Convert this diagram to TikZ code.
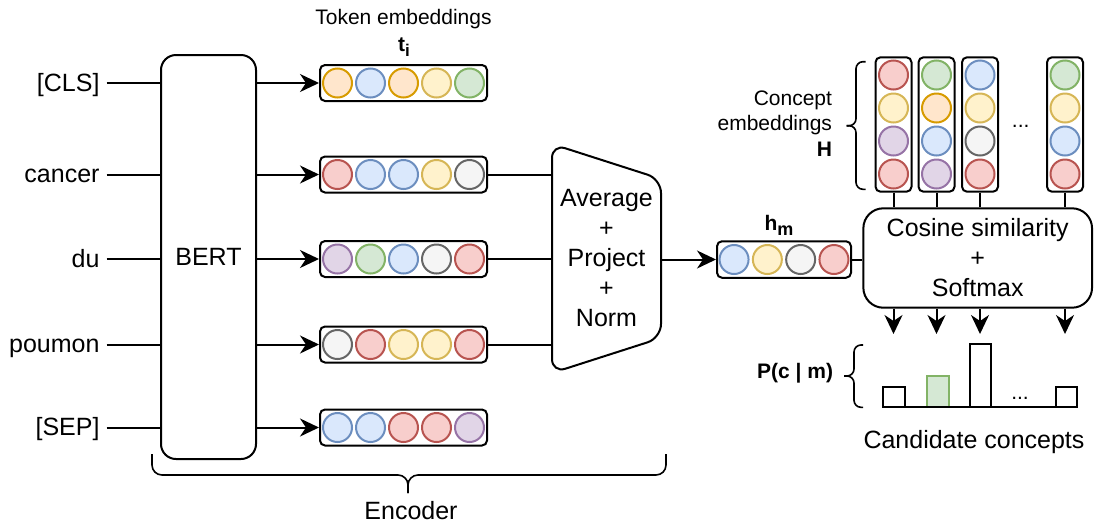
\documentclass[tikz,border=0pt]{standalone}
\usepackage{fontspec}
\setmainfont{Liberation Sans}
\usetikzlibrary{positioning,arrows.meta}

\definecolor{redfill}{HTML}{F8CECC}\definecolor{redline}{HTML}{B85450}
\definecolor{bluefill}{HTML}{DAE8FC}\definecolor{blueline}{HTML}{6C8EBF}
\definecolor{yellowfill}{HTML}{FFF2CC}\definecolor{yellowline}{HTML}{D6B656}
\definecolor{greenfill}{HTML}{D5E8D4}\definecolor{greenline}{HTML}{82B366}
\definecolor{orangefill}{HTML}{FFE6CC}\definecolor{orangeline}{HTML}{D79B00}
\definecolor{grayfill}{HTML}{F5F5F5}\definecolor{grayline}{HTML}{666666}
\definecolor{purplefill}{HTML}{E1D5E7}\definecolor{purpleline}{HTML}{9673A6}

\newcommand{\bigfont}{\fontsize{25}{30}\selectfont}
\newcommand{\smallfont}{\fontsize{21}{25.5}\selectfont}

\tikzset{
  dot/.style={circle, line width=2pt, minimum size=29pt, inner sep=0pt, draw=#1line, fill=#1fill},
  vecbox/.style={draw, rounded corners=5pt, line width=2pt, inner sep=0pt},
  bracepath/.style={line width=1.6pt, rounded corners=#1},
}

\begin{document}
\begin{tikzpicture}[x=1pt, y=-1pt, >={Stealth[length=19pt,width=18pt,inset=6pt]}, line width=2pt]
  \useasboundingbox (0,0) rectangle (1094,523);

  % encoder
  \node[draw, rounded corners=15pt, minimum width=95pt, minimum height=404pt, font=\bigfont] (bert) at (208.5,257) {BERT};
  \foreach \name/\txt/\y in {cls/{[CLS]}/83, cancer/cancer/174.5, du/du/259, poumon/poumon/344.5, sep/{[SEP]}/427.5}
    \node[anchor=east, inner xsep=6pt, inner ysep=0pt, text height=18pt, text depth=2pt, font=\bigfont] (\name) at (106.5,\y) {\txt};

  \foreach \i/\y/\cols in {1/83/{orange,blue,orange,yellow,green}, 2/174.5/{red,blue,blue,yellow,gray}, 3/259/{purple,green,blue,gray,red}, 4/344.5/{gray,red,yellow,yellow,red}, 5/427.5/{blue,blue,red,red,purple}} {
    \node[vecbox, minimum width=167pt, minimum height=36pt] (t\i) at (403.5,\y) {};
    \foreach \c [count=\k] in \cols
      \node[dot=\c] at ([xshift={(\k-3)*33pt}]t\i.center) {};
  }
  \foreach \n [count=\i] in {cls,cancer,du,poumon,sep} {
    \draw (\n) -- (bert.west |- \n);
    \draw[->] (bert.east |- t\i) -- (t\i);
  }
  \node[font=\smallfont] (tokl) at (403.5,19) {Token embeddings};
  \node[font=\smallfont\bfseries] (ti) at (404,47) {t\raisebox{-5pt}{\fontsize{17}{17}\selectfont i}};

  % average + project + norm
  \node[minimum width=107pt, minimum height=227pt, inner sep=0pt, align=center, font=\bigfont] (avg) at (606.5,258.5) {Average\\+\\Project\\+\\Norm};
  \draw[rounded corners=14pt] (avg.north west) -- ([yshift=-35pt]avg.north east) -- ([yshift=35pt]avg.south east) -- (avg.south west) -- cycle;
  \foreach \i in {2,3,4}
    \draw (t\i) -- (avg.west |- t\i);

  \node[vecbox, minimum width=134pt, minimum height=36.5pt] (hm) at (784,259.5) {};
  \foreach \c [count=\k] in {blue,yellow,gray,red}
    \node[dot=\c] at ([xshift={(\k-2.5)*33.3pt}]hm.center) {};
  \node[font=\smallfont\bfseries] (hml) at (779,225) {h\raisebox{-5pt}{\fontsize{18}{18}\selectfont m}};
  \draw[->] (avg.east |- hm) -- (hm);

  % scoring
  \node[draw, rounded corners=20pt, minimum width=228.7pt, minimum height=99.4pt, align=center, font=\bigfont] (cos) at (977.7,258) {Cosine similarity\\+\\Softmax};
  \draw (hm) -- (cos.west |- hm);

  \foreach \i/\x/\cols in {1/893.5/{red,yellow,purple,red}, 2/936.5/{green,orange,blue,purple}, 3/980/{blue,yellow,gray,red}, 4/1065/{green,yellow,blue,red}} {
    \node[vecbox, minimum width=36pt, minimum height=134.4pt] (c\i) at (\x,124.5) {};
    \foreach \c [count=\k] in \cols
      \node[dot=\c] at ([yshift={(2.5-\k)*33pt}]c\i.center) {};
    \draw (c\i) -- (cos.north -| c\i);
    \coordinate (a\i) at (\x,334);
    \draw[->] (cos.south -| c\i) -- (a\i);
  }
  \node[font=\smallfont] (cdots) at (1020.7,126.7) {...};
  \node[anchor=east, align=right, font=\smallfont, inner sep=0pt] (cel) at (833,123.5) {Concept\\embeddings\\\textbf{H}};
  \draw[bracepath=7pt] (865.7,61.7) -- (856,61.7) -- (856,125.7) -- (846.7,125.7);
  \draw[bracepath=7pt] (846.7,125.7) -- (856,125.7) -- (856,189.3) -- (865.7,189.3);

  % candidate scores
  \draw (883,407.3) rectangle (904.7,386.7);
  \draw[draw=greenline, fill=greenfill] (927.3,407.3) rectangle (949.3,376);
  \draw (970,407.3) rectangle (991.3,344.3);
  \draw (1055.7,407.3) rectangle (1076.7,386.7);
  \draw (883,407.3) -- (1077,407.3);
  \node[font=\smallfont] (bdots) at (1020,398) {...};
  \node[anchor=east, font=\smallfont\bfseries, inner sep=0pt] (pl) at (834,373) {P(c | m)};
  \draw[bracepath=7pt] (863,345) -- (854,345) -- (854,376) -- (844,376);
  \draw[bracepath=7pt] (844,376) -- (854,376) -- (854,407.3) -- (863,407.3);
  \node[font=\bigfont] (cand) at (974,441.7) {Candidate concepts};

  % encoder brace
  \draw[bracepath=10pt] (152,454) -- (152,475) -- (408,475) -- (408,493);
  \draw[bracepath=10pt] (408,493) -- (408,475) -- (666,475) -- (666,454);
  \node[font=\bigfont] (enc) at (411,511) {Encoder};
\end{tikzpicture}
\end{document}
